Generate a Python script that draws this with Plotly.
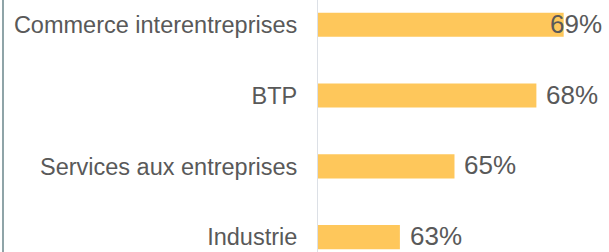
import plotly.graph_objects as go

categories = ["Industrie", "Services aux entreprises", "BTP", "Commerce interentreprises"]
values = [63, 65, 68, 69]
value_labels = ["63%", "65%", "68%", "69%"]

W, H = 609, 252
left_margin = 318
x_min, x_max = 60, 70.66
px_per_unit = (W - left_margin) / (x_max - x_min)

fig = go.Figure()
fig.add_trace(go.Bar(
    y=categories,
    x=values,
    orientation="h",
    marker=dict(color="#FEC75B", line=dict(width=0)),
    width=0.34,
    hoverinfo="skip",
))

label_width_px = 50
for cat, v, lab in zip(categories, values, value_labels):
    room = (x_max - v) * px_per_unit
    shift = 8 if room >= label_width_px + 10 else -16
    fig.add_annotation(
        x=v, y=cat, xref="x", yref="y",
        text=lab, showarrow=False,
        xanchor="left", yanchor="middle",
        xshift=shift, yshift=1,
        font=dict(family="Liberation Sans, Arial, sans-serif", size=26, color="#595959"),
    )

# left frame line
fig.add_shape(
    type="line", xref="paper", yref="paper",
    x0=(3 - left_margin) / (W - left_margin), x1=(3 - left_margin) / (W - left_margin),
    y0=0, y1=1,
    line=dict(color="#8FA4A8", width=2),
)

fig.update_layout(
    width=W, height=H,
    margin=dict(l=left_margin, r=0, t=0, b=0),
    paper_bgcolor="white", plot_bgcolor="white",
    showlegend=False,
    xaxis=dict(range=[x_min, x_max], showgrid=False, zeroline=False,
               showticklabels=False, ticks="", showline=False, fixedrange=True),
    yaxis=dict(range=[-0.21, 3.35], showgrid=False, zeroline=False, ticks="",
               showline=True, linecolor="#DCE0E6", linewidth=1,
               ticklabelstandoff=15, fixedrange=True,
               tickfont=dict(family="Liberation Sans, Arial, sans-serif", size=23.5, color="#595959")),
)

fig.write_html(
    "out.html",
    config={"displayModeBar": False, "staticPlot": True},
    post_script="document.body.style.margin='0';document.body.style.overflow='hidden';",
)
